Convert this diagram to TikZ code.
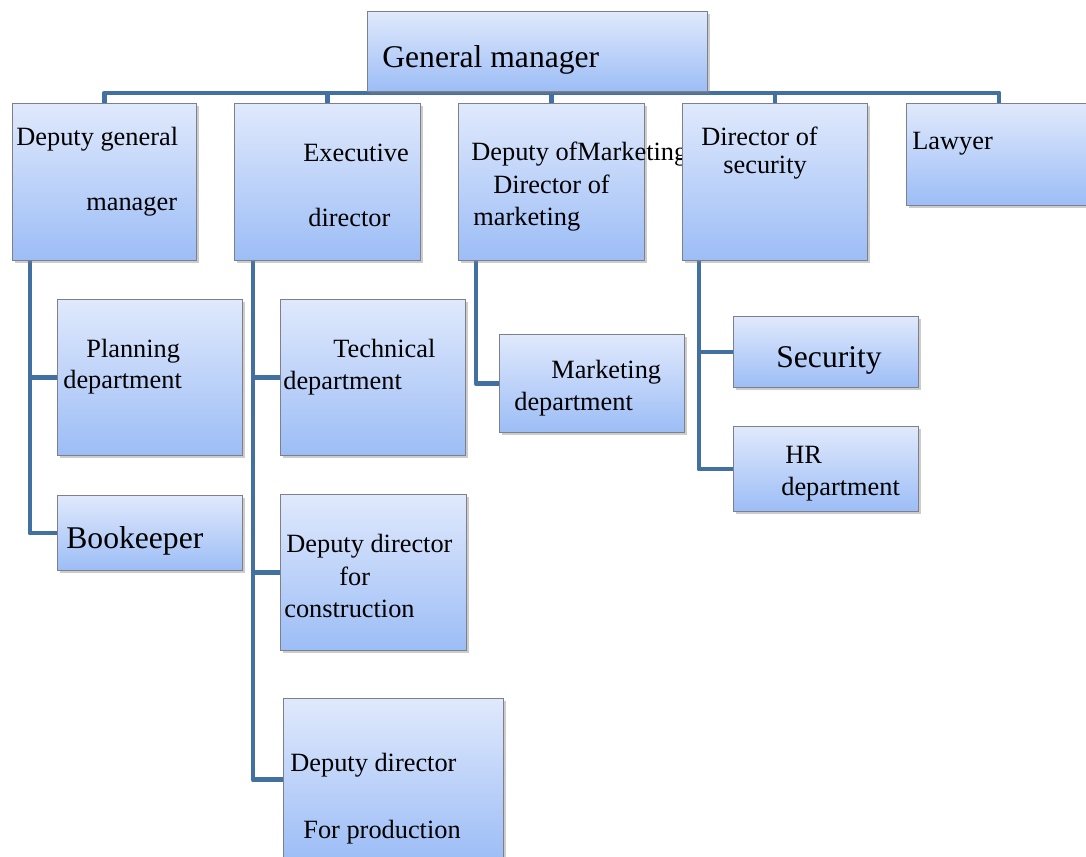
\documentclass[tikz,border=0pt]{standalone}
\usepackage{fontspec}
\setmainfont{Liberation Serif}
\usetikzlibrary{shadows,backgrounds}
\definecolor{linkblue}{RGB}{66,112,160}
\definecolor{boxtop}{RGB}{224,233,252}
\definecolor{boxbot}{RGB}{156,189,246}
\definecolor{boxline}{RGB}{125,128,138}

\begin{document}
\begin{tikzpicture}[x=0.02cm,y=-0.02cm,
  unit/.style={rectangle,draw=boxline,line width=0.6pt,top color=boxtop,bottom color=boxbot,
    anchor=north west,inner sep=0pt,
    drop shadow={shadow xshift=1.2pt,shadow yshift=-1.2pt,opacity=0.4}},
  link/.style={draw=linkblue,line width=2.8pt,line join=round},
  txt/.style={anchor=base west,inner sep=0pt,font=\fontsize{15}{17}\selectfont},
  big/.style={txt,font=\fontsize{18}{21}\selectfont}]
  \useasboundingbox (0,0) rectangle (1086,856);
  \node[unit,minimum width=6.8cm,minimum height=1.6cm] (gm) at (367,11) {};
  \node[big] (gmt) at (382,67) {General manager};
  \node[unit,minimum width=3.68cm,minimum height=3.14cm] (dgm) at (12,103) {};
  \node[txt] (dgm1) at (16,145) {Deputy general};
  \node[txt] (dgm2) at (86,210) {manager};
  \node[unit,minimum width=3.72cm,minimum height=3.14cm] (exe) at (234,103) {};
  \node[txt] (exe1) at (303,161) {Executive};
  \node[txt] (exe2) at (308,226) {director};
  \node[unit,minimum width=3.72cm,minimum height=3.14cm] (dmk) at (458,103) {};
  \node[txt] (dmk1) at (471,160) {Deputy ofMarketing};
  \node[txt] (dmk2) at (493,193) {Director of};
  \node[txt] (dmk3) at (473,225) {marketing};
  \node[unit,minimum width=3.7cm,minimum height=3.14cm] (dsec) at (682,103) {};
  \node[txt] (dsec1) at (701,145) {Director of};
  \node[txt] (dsec2) at (723,173) {security};
  \node[unit,minimum width=3.7cm,minimum height=2.04cm] (law) at (906,103) {};
  \node[txt] (lawt) at (912,149) {Lawyer};
  \node[unit,minimum width=3.7cm,minimum height=3.12cm] (plan) at (57,299) {};
  \node[txt] (plan1) at (86,357) {Planning};
  \node[txt] (plan2) at (63,388) {department};
  \node[unit,minimum width=3.7cm,minimum height=1.5cm] (book) at (57,495) {};
  \node[big] (bookt) at (66,548) {Bookeeper};
  \node[unit,minimum width=3.7cm,minimum height=3.12cm] (tech) at (280,299) {};
  \node[txt] (tech1) at (333,357) {Technical};
  \node[txt] (tech2) at (283,389) {department};
  \node[unit,minimum width=3.72cm,minimum height=3.12cm] (cons) at (280,494) {};
  \node[txt] (cons1) at (286,552) {Deputy director};
  \node[txt] (cons2) at (339,585) {for};
  \node[txt] (cons3) at (284,617) {construction};
  \node[unit,minimum width=4.4cm,minimum height=3.24cm] (prod) at (283,698) {};
  \node[txt] (prod1) at (290,771) {Deputy director};
  \node[txt] (prod2) at (303,838) {For production};
  \node[unit,minimum width=3.7cm,minimum height=1.96cm] (mkt) at (499,334) {};
  \node[txt] (mkt1) at (551,378) {Marketing};
  \node[txt] (mkt2) at (514,410) {department};
  \node[unit,minimum width=3.7cm,minimum height=1.42cm] (sec) at (733,316) {};
  \node[big] (sect) at (776,367) {Security};
  \node[unit,minimum width=3.7cm,minimum height=1.7cm] (hr) at (733,426) {};
  \node[txt] (hr1) at (785,463) {HR};
  \node[txt] (hr2) at (781,495) {department};
  \begin{scope}[on background layer]
    \coordinate (bus) at (0,93);
    \draw[link] (dgm.north) |- (bus -| law.north) -- (law.north);
    \foreach \n in {exe,dmk,dsec}
      \draw[link] (\n.north) -- (\n.north |- bus);
    \draw[link] (dgm.south west) ++(18,0) coordinate (t1) -- (t1 |- book.west) -- (book.west);
    \draw[link] (t1 |- plan.west) -- (plan.west);
    \draw[link] (exe.south west) ++(19,0) coordinate (t2) -- (t2 |- prod.west) -- (prod.west);
    \draw[link] (t2 |- tech.west) -- (tech.west);
    \draw[link] (t2 |- cons.west) -- (cons.west);
    \draw[link] (dmk.south west) ++(18,0) coordinate (t3) -- (t3 |- mkt.west) -- (mkt.west);
    \draw[link] (dsec.south west) ++(17,0) coordinate (t4) -- (t4 |- hr.west) -- (hr.west);
    \draw[link] (t4 |- sec.west) -- (sec.west);
  \end{scope}
\end{tikzpicture}
\end{document}
